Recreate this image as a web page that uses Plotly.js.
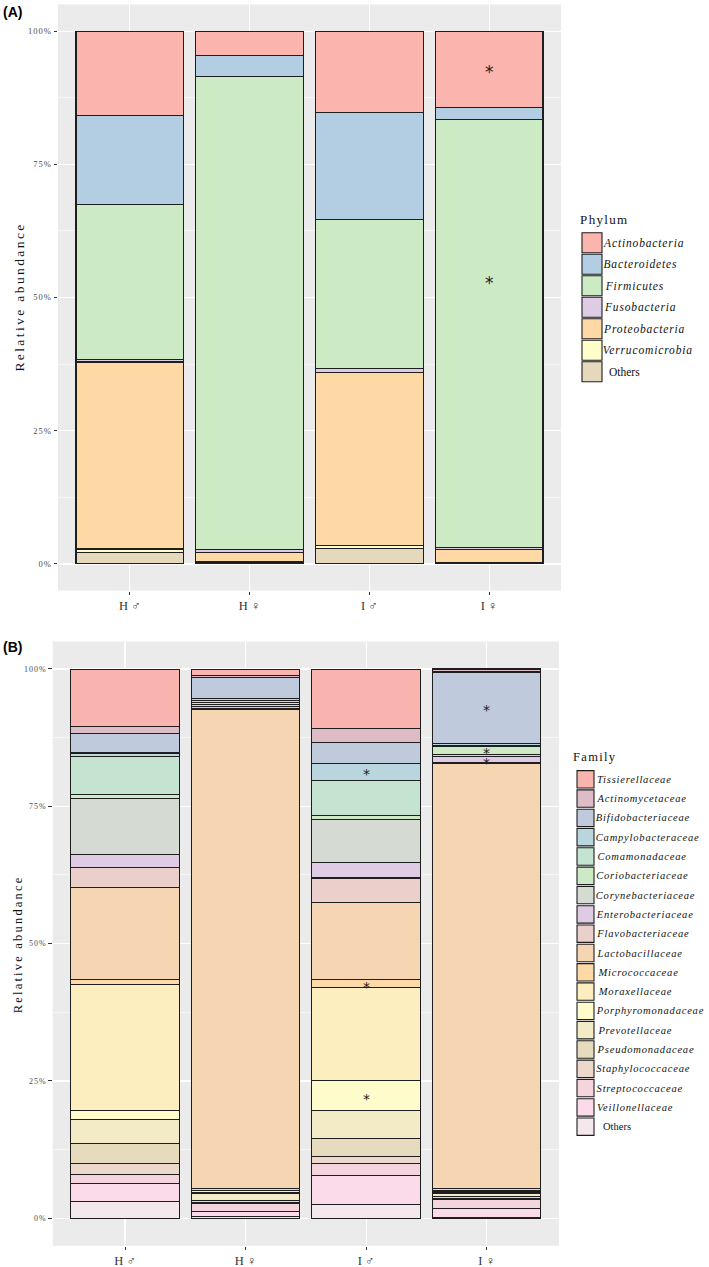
<!DOCTYPE html>
<html>
<head>
<meta charset="utf-8">
<script src="https://cdn.plot.ly/plotly-3.0.1.min.js"></script>
<style>
html,body{margin:0;padding:0;background:#fff;}
#chart{width:709px;height:1267px;}
</style>
</head>
<body>
<div id="chart"></div>
<script>
// ---------- DATA ----------
const groups = ['H ♂', 'H ♀', 'I ♂', 'I ♀'];

const phylumNames = ['Actinobacteria','Bacteroidetes','Firmicutes','Fusobacteria','Proteobacteria','Verrucomicrobia','Others'];
// values (%) per group, in the order of phylumNames (top of bar first)
const phylumHmale   = [15.8, 16.8, 29.0, 0.5, 35.1, 0.6, 2.2];
const phylumHfemale = [4.6, 3.9, 88.8, 0.5, 1.8, 0.2, 0.2];
const phylumImale   = [15.2, 20.2, 27.9, 0.7, 32.5, 0.6, 2.9];
const phylumIfemale = [14.3, 2.3, 80.3, 0.4, 2.4, 0.1, 0.2];

const familyNames = ['Tissierellaceae','Actinomycetaceae','Bifidobacteriaceae','Campylobacteraceae','Comamonadaceae',
  'Coriobacteriaceae','Corynebacteriaceae','Enterobacteriaceae','Flavobacteriaceae','Lactobacillaceae','Micrococcaceae',
  'Moraxellaceae','Porphyromonadaceae','Prevotellaceae','Pseudomonadaceae','Staphylococcaceae','Streptococcaceae',
  'Veillonellaceae','Others'];
const familyHmale   = [10.45,1.2,3.6,0.7,6.9,0.7,10.1,2.5,3.5,16.8,0.9,22.9,1.7,4.3,3.8,1.9,1.7,3.3,3.0];
const familyHfemale = [1.2,0.3,3.9,0.3,0.4,0.3,0.4,0.3,0.3,87.1,0.4,0.3,0.2,1.35,0.3,0.2,1.5,0.8,0.4];
const familyImale   = [10.75,2.65,3.7,3.2,6.4,0.6,7.9,2.8,4.4,14.1,1.5,16.9,5.5,4.95,3.3,1.4,2.1,5.2,2.6];
const familyIfemale = [0.0,0.55,13.0,0.3,0.2,1.6,0.3,1.1,0.2,77.35,0.3,0.3,0.3,0.6,0.3,0.2,1.6,1.7,0.1];

// significance markers
const phylumStarGroups = ['I ♀', 'I ♀'];
const phylumStarValues = [93.0, 53.4];
const familyStarGroups = ['I ♂', 'I ♂', 'I ♂', 'I ♀', 'I ♀', 'I ♀'];
const familyStarValues = [81.5, 42.7, 22.4, 93.1, 85.3, 83.5];

const yTickVals = [0, 25, 50, 75, 100];
const yTickText = ['0%', '25%', '50%', '75%', '100%'];

// ---------- STYLE ----------
const phylumColors = ['#FBB4AE','#B3CDE3','#CCEBC5','#DECBE4','#FED9A6','#FFFFCC','#E5D8BD'];
const familyColors = ['#FAB4AF','#DDBCC5','#BFCADC','#B9D5DD','#C4E3D0','#CDE9C6','#D5DAD3','#DFCBE3','#EACFCB',
  '#F5D5B2','#FDD9A8','#FCEEBE','#FEFCCA','#F2EBC6','#E6DBBC','#EDD9CB','#F5D5DD','#FBDAEA','#F4E8EC'];

const SERIF = '"Liberation Serif", "Times New Roman", serif';
const W = 709, H = 1267;
const px = x => x / W;
const py = y => 1 - y / H;

const phylumTable = [phylumHmale, phylumHfemale, phylumImale, phylumIfemale];
const familyTable = [familyHmale, familyHfemale, familyImale, familyIfemale];

const traces = [];
function addStack(names, table, colors, xa, ya) {
  for (let i = names.length - 1; i >= 0; i--) {
    traces.push({
      type: 'bar', x: groups, y: table.map(r => r[i]), name: names[i],
      xaxis: xa, yaxis: ya, width: 0.9, showlegend: false,
      marker: {color: colors[i], line: {color: '#1e1e1e', width: 1.1}},
      hoverinfo: 'skip'
    });
  }
}
addStack(phylumNames, phylumTable, phylumColors, 'x', 'y');
addStack(familyNames, familyTable, familyColors, 'x2', 'y2');

const annotations = [];
const spacing = [];
function addAnn(a, sp) { annotations.push(a); spacing.push(sp || 0); }

// stars
phylumStarGroups.forEach((g, i) => addAnn({xref:'x', yref:'y', x:g, y:phylumStarValues[i], text:'*', showarrow:false,
  font:{family:'DejaVu Sans', size:17, color:'#222'}, yshift:-4}));
familyStarGroups.forEach((g, i) => addAnn({xref:'x2', yref:'y2', x:g, y:familyStarValues[i], text:'*', showarrow:false,
  font:{family:'DejaVu Sans', size:14, color:'#222'}, yshift:-3.5}));

// panel labels
addAnn({xref:'paper', yref:'paper', x:px(1), y:py(12), xanchor:'left', yanchor:'middle', showarrow:false,
  text:'<b>(A)</b>', font:{family:'"Liberation Sans", Arial, sans-serif', size:14, color:'#000'}});
addAnn({xref:'paper', yref:'paper', x:px(1), y:py(647), xanchor:'left', yanchor:'middle', showarrow:false,
  text:'<b>(B)</b>', font:{family:'"Liberation Sans", Arial, sans-serif', size:14, color:'#000'}});

// y titles
addAnn({xref:'paper', yref:'paper', x:px(19), y:py(297), textangle:-90, xanchor:'center', yanchor:'middle', showarrow:false,
  text:'Relative abundance', font:{family:SERIF, size:13.5, color:'#111'}}, 2.4);
addAnn({xref:'paper', yref:'paper', x:px(17.5), y:py(944), textangle:-90, xanchor:'center', yanchor:'middle', showarrow:false,
  text:'Relative abundance', font:{family:SERIF, size:12.5, color:'#111'}}, 2.2);

const shapes = [];
// legend A
addAnn({xref:'paper', yref:'paper', x:px(582), y:py(220), xanchor:'left', yanchor:'middle', showarrow:false,
  text:'Phylum', font:{family:SERIF, size:13, color:'#111'}}, 1.3);
phylumNames.forEach((n, i) => {
  const cy = 242.7 + i * 21.5;
  shapes.push({type:'rect', xref:'paper', yref:'paper', x0:px(582), x1:px(602), y0:py(cy - 10), y1:py(cy + 10),
    fillcolor: phylumColors[i], line:{color:'#1e1e1e', width:1.1}});
  const it = n !== 'Others';
  addAnn({xref:'paper', yref:'paper', x:px(607), y:py(cy), xanchor:'left', yanchor:'middle', showarrow:false,
    text: it ? '<i>' + n + '</i>' : n, font:{family:SERIF, size:11.5, color:'#111'}}, it ? 0.85 : 0);
});
// legend B
addAnn({xref:'paper', yref:'paper', x:px(575), y:py(757), xanchor:'left', yanchor:'middle', showarrow:false,
  text:'Family', font:{family:SERIF, size:12.5, color:'#111'}}, 1.3);
familyNames.forEach((n, i) => {
  const cy = 779.3 + i * 19.3;
  shapes.push({type:'rect', xref:'paper', yref:'paper', x0:px(577), x1:px(594), y0:py(cy - 8.7), y1:py(cy + 8.7),
    fillcolor: familyColors[i], line:{color:'#1e1e1e', width:1.1}});
  const it = n !== 'Others';
  addAnn({xref:'paper', yref:'paper', x:px(601), y:py(cy), xanchor:'left', yanchor:'middle', showarrow:false,
    text: it ? '<i>' + n + '</i>' : n, font:{family:SERIF, size:10.5, color:'#111'}}, it ? 0.8 : 0);
});

function xAxis(domain, anchor) {
  return {domain: domain, anchor: anchor, type:'category', range:[-0.6, 3.6], showgrid:true, gridcolor:'#ffffff',
    gridwidth:1.1, zeroline:false, showline:false, ticks:'outside', ticklen:3.5, tickwidth:1, tickcolor:'#333',
    tickfont:{family:SERIF, size:12.5, color:'#333'}, fixedrange:true};
}
function yAxis(domain, anchor, fs) {
  return {domain: domain, anchor: anchor, range:[-5, 105], tickmode:'array', tickvals:yTickVals, ticktext:yTickText,
    showgrid:true, gridcolor:'#ffffff', gridwidth:1.1, zeroline:false, showline:false, ticks:'outside', ticklen:3.5,
    tickwidth:1, tickcolor:'#333', tickfont:{family:SERIF, size:fs, color:'#4d4d4d'},
    minor:{tickmode:'array', tickvals:[12.5, 37.5, 62.5, 87.5], showgrid:true, gridcolor:'#ffffff', gridwidth:0.55, ticks:''},
    fixedrange:true};
}

const layout = {
  width: W, height: H, margin:{l:0, r:0, t:0, b:0},
  paper_bgcolor:'#ffffff', plot_bgcolor:'#EBEBEB', barmode:'stack', bargap:0.1, showlegend:false,
  xaxis: xAxis([px(58), px(561)], 'y'),
  yaxis: yAxis([py(590.6), py(4.4)], 'x', 8.5),
  xaxis2: xAxis([px(52.7), px(559)], 'y2'),
  yaxis2: yAxis([py(1245.8), py(641.5)], 'x2', 8),
  annotations: annotations, shapes: shapes
};

Plotly.newPlot('chart', traces, layout, {staticPlot:true, displayModeBar:false}).then(() => {
  document.querySelectorAll('g.annotation').forEach(g => {
    const idx = +g.getAttribute('data-index');
    const sp = spacing[idx];
    if (sp) g.querySelectorAll('text').forEach(t => t.style.letterSpacing = sp + 'px');
  });
  document.querySelectorAll('g.ytick text, g.y2tick text').forEach(t => t.style.letterSpacing = '1px');
});
</script>
</body>
</html>
